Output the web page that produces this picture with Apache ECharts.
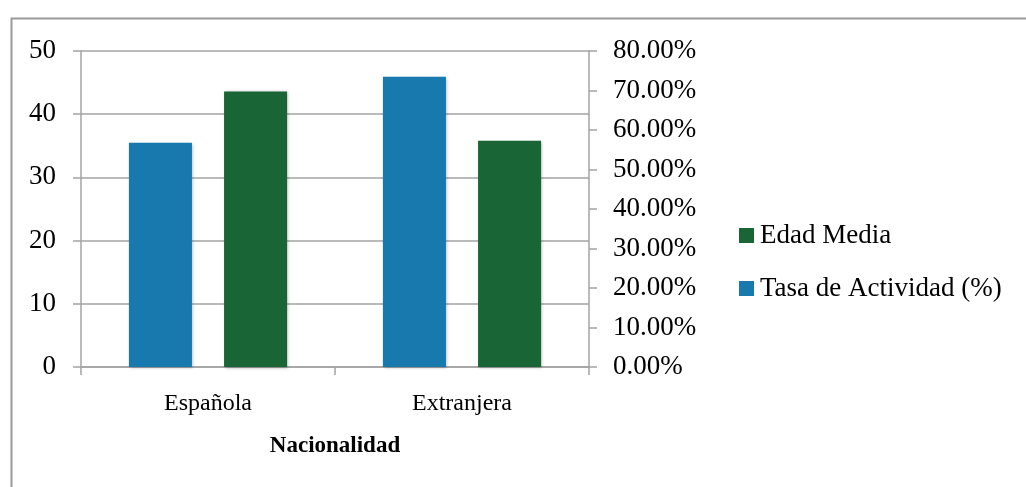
<!DOCTYPE html>
<html>
<head>
<meta charset="utf-8">
<script src="https://cdn.jsdelivr.net/npm/echarts@6/dist/echarts.min.js"></script>
<style>
  html, body { margin: 0; padding: 0; background: #ffffff; }
  #chart { width: 1026px; height: 487px; }
</style>
</head>
<body>
<div id="chart"></div>
<script>
// Nationality groups on the x axis
const categories = ['Española', 'Extranjera'];
// Activity rate (fraction, right axis)
const tasaActividad = [0.568, 0.735];
// Mean age in years (left axis)
const edadMedia = [43.6, 35.8];

const serifFont = '"Liberation Serif", "DejaVu Serif", serif';
const gridGray = '#a3a3a3';

const chart = echarts.init(document.getElementById('chart'), null, { renderer: 'canvas' });

chart.setOption({
  backgroundColor: '#ffffff',
  animation: false,
  textStyle: { fontFamily: serifFont, color: '#000000' },
  graphic: [{
    type: 'rect',
    left: 9,
    top: 16,
    shape: { width: 1100, height: 600 },
    style: { fill: 'none', stroke: '#9a9a9a', lineWidth: 2 },
    silent: true,
    z: -1
  }],
  grid: { left: 81, right: 437, top: 51, bottom: 120, containLabel: false },
  legend: {
    orient: 'vertical',
    left: 734,
    top: 217,
    itemWidth: 15,
    itemHeight: 15,
    itemGap: 26,
    icon: 'rect',
    data: ['Edad Media', 'Tasa de Actividad (%)'],
    textStyle: { fontFamily: serifFont, fontSize: 27, color: '#000000', padding: [0, 0, 0, 1] }
  },
  xAxis: {
    type: 'category',
    data: categories,
    axisLine: { lineStyle: { color: gridGray, width: 1.5 } },
    axisTick: { show: true, alignWithLabel: false, length: 8, lineStyle: { color: gridGray, width: 1.5 } },
    axisLabel: { fontFamily: serifFont, fontSize: 24, color: '#000000', margin: 25 },
    name: 'Nacionalidad',
    nameLocation: 'middle',
    nameGap: 68,
    nameTextStyle: { fontFamily: serifFont, fontSize: 23, fontWeight: 'bold', color: '#000000' }
  },
  yAxis: [{
    type: 'value',
    position: 'left',
    min: 0,
    max: 50,
    interval: 10,
    axisLine: { show: true, lineStyle: { color: gridGray, width: 1.5 } },
    axisTick: { show: true, length: 8, lineStyle: { color: gridGray, width: 1.5 } },
    axisLabel: { fontFamily: serifFont, fontSize: 27, color: '#000000', margin: 25, padding: [7, 0, 0, 0] },
    splitLine: { show: true, lineStyle: { color: gridGray, width: 1.5 } }
  }, {
    type: 'value',
    position: 'right',
    min: 0,
    max: 0.8,
    interval: 0.1,
    axisLine: { show: true, lineStyle: { color: gridGray, width: 1.5 } },
    axisTick: { show: true, length: 8, lineStyle: { color: gridGray, width: 1.5 } },
    axisLabel: {
      fontFamily: serifFont, fontSize: 27, color: '#000000', margin: 24, padding: [7, 0, 0, 0],
      formatter: v => (v * 100).toFixed(2) + '%'
    },
    splitLine: { show: false }
  }],
  series: [{
    name: 'Tasa de Actividad (%)',
    type: 'bar',
    yAxisIndex: 1,
    data: tasaActividad,
    barWidth: 63,
    barGap: '51%',
    itemStyle: {
      color: '#1779ad',
      shadowColor: 'rgba(0,0,0,0.3)', shadowBlur: 3, shadowOffsetX: 1, shadowOffsetY: 1
    }
  }, {
    name: 'Edad Media',
    type: 'bar',
    yAxisIndex: 0,
    data: edadMedia,
    barWidth: 63,
    barGap: '51%',
    itemStyle: {
      color: '#196536',
      shadowColor: 'rgba(0,0,0,0.3)', shadowBlur: 3, shadowOffsetX: 1, shadowOffsetY: 1
    }
  }]
});
</script>
</body>
</html>
